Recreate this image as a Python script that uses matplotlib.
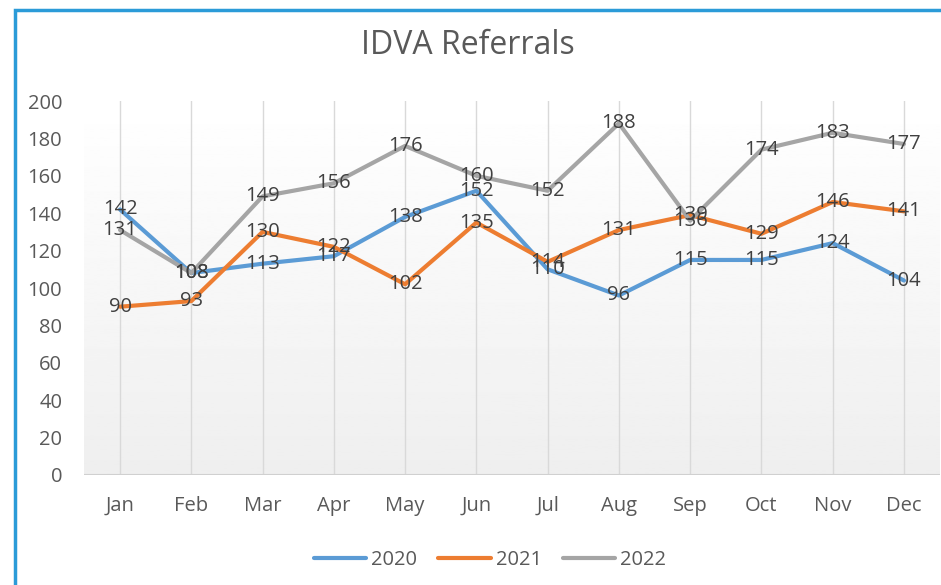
import numpy as np
import matplotlib.pyplot as plt
from matplotlib.patches import Rectangle

plt.rcParams['font.family'] = ['Open Sans', 'DejaVu Sans']

# Data
months = ["Jan", "Feb", "Mar", "Apr", "May", "Jun", "Jul", "Aug", "Sep", "Oct", "Nov", "Dec"]
ref_2020 = [142, 108, 113, 117, 138, 152, 110, 96, 115, 115, 124, 104]
ref_2021 = [90, 93, 130, 122, 102, 135, 114, 131, 139, 129, 146, 141]
ref_2022 = [131, 108, 149, 156, 176, 160, 152, 188, 136, 174, 183, 177]
y_ticks = [0, 20, 40, 60, 80, 100, 120, 140, 160, 180, 200]

series = [("2020", ref_2020, "#5b9bd5"),
          ("2021", ref_2021, "#ed7d31"),
          ("2022", ref_2022, "#a5a5a5")]

fig = plt.figure(figsize=(9.41, 5.85), dpi=100)
ax = fig.add_axes([84.4 / 941, 110 / 585, 855.2 / 941, 374 / 585])

x = np.arange(len(months))

# gradient background: white at top to light grey at bottom
grad = np.linspace(1.0, 0.935, 256).reshape(-1, 1)
ax.imshow(grad, extent=[-0.5, 11.5, 0, 200], aspect='auto', cmap='gray',
          vmin=0, vmax=1, origin='upper', zorder=0)

# vertical gridlines
for xi in x:
    ax.axvline(xi, color="#d9d9d9", lw=1, zorder=1)
ax.axhline(0, color="#d0d0d0", lw=1.5, zorder=1)

for name, vals, col in series:
    ax.plot(x, vals, color=col, lw=3, label=name, zorder=3, solid_capstyle='round')
    for xi, v in zip(x, vals):
        ax.text(xi, v, str(v), ha='center', va='center', fontsize=14.5,
                color="#404040", zorder=4)

ax.set_xlim(-0.5, 11.5)
ax.set_ylim(0, 200)
ax.set_yticks(y_ticks)
ax.set_xticks(x)
ax.set_xticklabels(months)
ax.tick_params(length=0, labelsize=14.5, colors="#595959")
ax.tick_params(axis='x', pad=15)
ax.tick_params(axis='y', pad=16)
for s in ax.spines.values():
    s.set_visible(False)

fig.text(468 / 941, 1 - 46 / 585, "IDVA Referrals", ha='center', va='center',
         fontsize=23, color="#595959")

leg = fig.legend(loc='center', bbox_to_anchor=(490 / 941, 1 - 560 / 585), ncol=3,
                 frameon=False, fontsize=14.5, handlelength=2.6, columnspacing=1.05,
                 handletextpad=0.25)
for t in leg.get_texts():
    t.set_color("#595959")

# blue frame
fig.patches.append(Rectangle((15 / 941, -0.1), 2, 1 - 10 / 585 + 0.1,
                             transform=fig.transFigure, fill=False,
                             edgecolor="#2b9bd8", lw=2.5))

fig.savefig("out.png", dpi=100)
